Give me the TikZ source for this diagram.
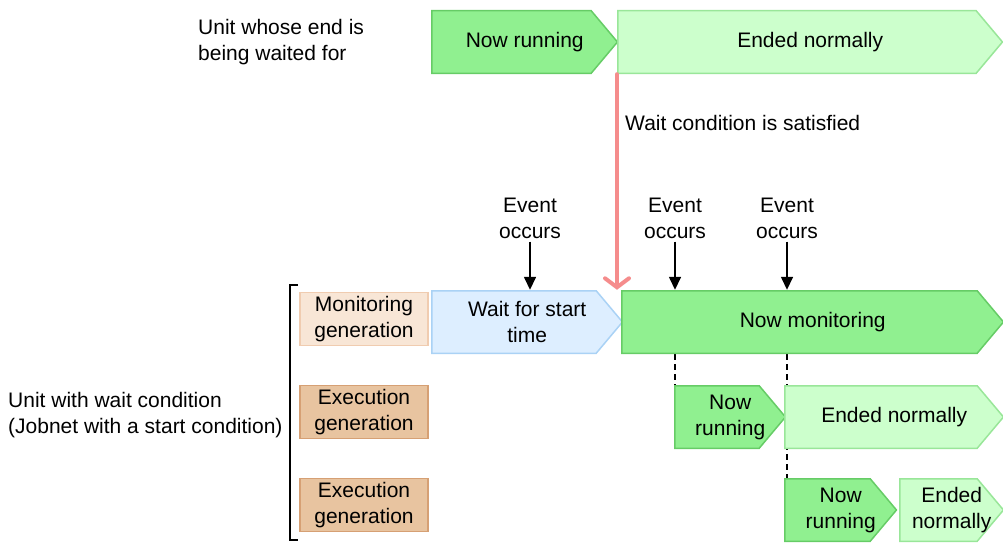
\documentclass[tikz,border=0pt]{standalone}
\usepackage{fontspec}
\setmainfont{Liberation Sans}
\usepackage{tikz}
\usetikzlibrary{arrows.meta,backgrounds}
\definecolor{runfill}{RGB}{144,240,144}
\definecolor{runline}{RGB}{102,204,102}
\definecolor{endfill}{RGB}{204,255,204}
\definecolor{endline}{RGB}{153,230,153}
\definecolor{waitfill}{RGB}{221,238,255}
\definecolor{waitline}{RGB}{170,210,245}
\definecolor{genfill}{RGB}{248,230,214}
\definecolor{genline}{RGB}{240,204,176}
\definecolor{exefill}{RGB}{232,196,160}
\definecolor{exeline}{RGB}{214,160,116}
\definecolor{satred}{RGB}{245,140,140}

\begin{document}
\begin{tikzpicture}[x=1pt,y=-1pt,>={Triangle[length=13pt,width=12pt]},
  every node/.style={font=\fontsize{21}{26}\selectfont,align=center,inner sep=3pt},
  phase/.style 2 args={rectangle,minimum height=64pt,anchor=west,inner sep=0pt,
    path picture={\filldraw[fill=#1,draw=#2,line width=1.5pt]
      ([shift={(0.75pt,0.75pt)}]path picture bounding box.south west)
      |- ([shift={(-27pt,-0.75pt)}]path picture bounding box.north east)
      -- ([xshift=-0.75pt]path picture bounding box.east)
      -- ([shift={(-27pt,0.75pt)}]path picture bounding box.south east) -- cycle;}},
  runbox/.style={phase={runfill}{runline}},
  endbox/.style={phase={endfill}{endline}},
  waitbox/.style={phase={waitfill}{waitline}},
  genbox/.style={rectangle,minimum width=128pt,minimum height=53pt,line width=1.5pt},
  evarrow/.style={->,line width=1.5pt}]
  \useasboundingbox (0,0) rectangle (1003,543);
  % unit whose end is waited for
  \node[anchor=west,align=left] (waitedLbl) at (195,42) {Unit whose end is\\being waited for};
  \node[runbox,minimum width=187pt] (topRun) at (431,42) {Now running};
  \node[endbox,minimum width=386pt] (topEnd) at (617,42) {Ended normally};
  % unit with wait condition
  \node[anchor=west,align=left] (unitLbl) at (5,415) {Unit with wait condition\\(Jobnet with a start condition)};
  \draw[line width=1.5pt] (298,285) -- (290,285) -- (290,540) -- (298,540);
  \node[genbox,fill=genfill,draw=genline] (monGen) at (364,319) {Monitoring\\generation};
  \node[genbox,fill=exefill,draw=exeline] (exeGen1) at (364,412) {Execution\\generation};
  \node[genbox,fill=exefill,draw=exeline] (exeGen2) at (364,505) {Execution\\generation};
  \node[waitbox,minimum width=192pt] (waitBox) at (431,322) {Wait for start\\time};
  \node[runbox,minimum width=383pt] (monBox) at (621,322) {Now monitoring};
  \node[runbox,minimum width=112pt] (run2) at (674,417) {Now\\running};
  \node[endbox,minimum width=220pt] (end2) at (784,417) {Ended normally};
  \node[runbox,minimum width=113pt] (run3) at (784,510) {Now\\running};
  \node[endbox,minimum width=105pt] (end3) at (899,510) {Ended\\normally};
  % events
  \node (ev1) at (530,218) {Event\\occurs};
  \node (ev2) at (675,218) {Event\\occurs};
  \node (ev3) at (787,218) {Event\\occurs};
  \draw[evarrow] (ev1) -- (ev1 |- waitBox.north);
  \draw[evarrow] (ev2) -- (ev2 |- monBox.north);
  \draw[evarrow] (ev3) -- (ev3 |- monBox.north);
  \begin{scope}[on background layer]
    \draw[line width=1.5pt,dash pattern=on 6pt off 4pt] (ev2 |- monBox.south) -- (ev2 |- run2.north);
    \draw[line width=1.5pt,dash pattern=on 6pt off 4pt] (ev3 |- monBox.south) -- (ev3 |- run3.north);
  \end{scope}
  % wait condition
  \draw[satred,line width=4pt,line cap=round,-{Straight Barb[length=9pt,width=24pt,line cap=round]}]
    (topEnd.south west) -- (topEnd.south west |- monBox.north);
  \node[anchor=west] (satLbl) at (622,123) {Wait condition is satisfied};
\end{tikzpicture}
\end{document}
